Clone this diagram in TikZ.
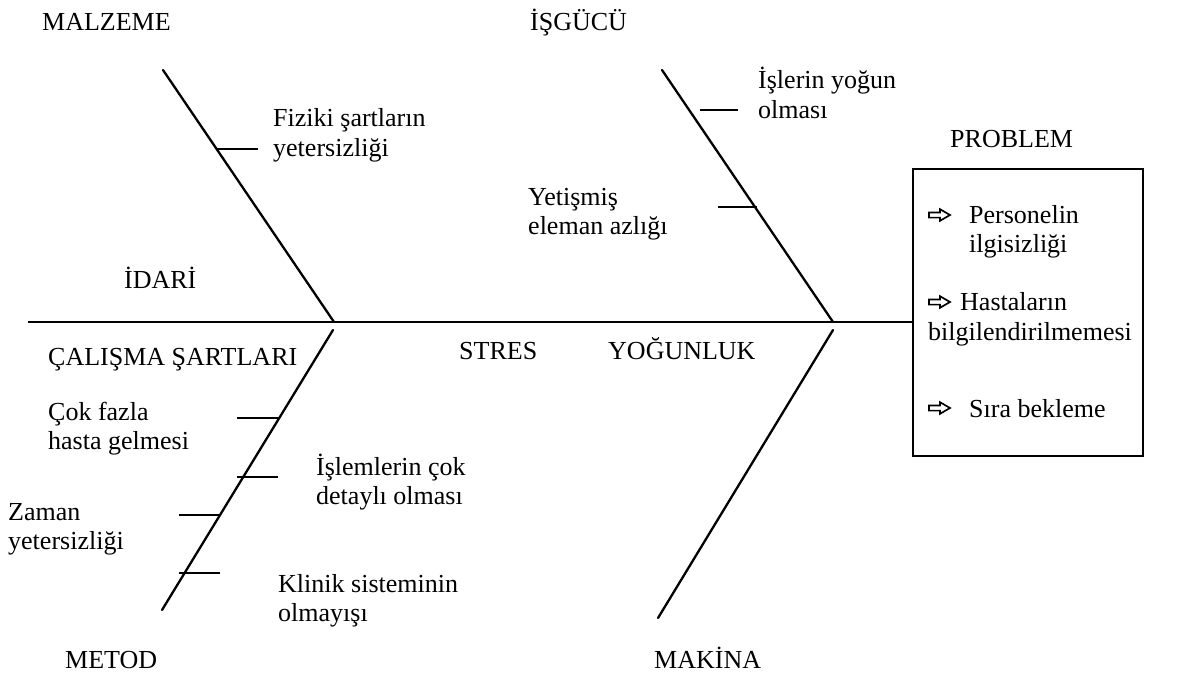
\documentclass[tikz,border=0pt]{standalone}
\usepackage{fontspec}
\setmainfont{Liberation Serif}
% two stacked lines whose baseline is the first line's baseline
\newcommand\twoline[2]{\begin{tabular}[t]{@{}l@{}}#1\\#2\end{tabular}}
\begin{document}
\begin{tikzpicture}[x=1pt,y=-1pt,
  lbl/.style={anchor=base west, inner sep=0pt, font=\fontsize{26}{29}\selectfont},
  bone/.style={line width=2.3pt, line cap=round},
  spine/.style={line width=2.6pt},
  tickline/.style={line width=1.9pt},
  probbox/.style={draw, line width=1.9pt, anchor=north west, inner sep=0pt,
                  minimum width=230pt, minimum height=287pt},
  harrow/.pic={\draw[line width=1.7pt, line join=miter]
      (0,-2.6) -- (11,-2.6) -- (11,-5.8) -- (21,0) -- (11,5.8) -- (11,2.6) -- (0,2.6) -- cycle;},
]
\useasboundingbox (0,0) rectangle (1188,674);

% problem box
\node[probbox] (prob) at (912,168) {};

% spine
\coordinate (tail) at (28,322);
\draw[spine] (tail) -- (tail -| prob.west);

% main bones
\coordinate (h1) at (334,322);
\coordinate (h2) at (833,322);
\coordinate (ulTop) at (163,70);
\coordinate (urTop) at (662,70);
\coordinate (llTop) at (333,330);
\coordinate (llEnd) at (162,610);
\coordinate (lrTop) at (833,330);
\coordinate (lrEnd) at (658,618);
\draw[bone] (ulTop) -- (h1);
\draw[bone] (urTop) -- (h2);
\draw[bone] (llTop) -- (llEnd);
\draw[bone] (lrTop) -- (lrEnd);

% small cause ticks
\draw[tickline] (217,149) -- (258,149);
\draw[tickline] (700,110) -- (738,110);
\draw[tickline] (718,207) -- (757,207);
\draw[tickline] (237,418) -- (279,418);
\draw[tickline] (237,477) -- (278,477);
\draw[tickline] (179,515) -- (221,515);
\draw[tickline] (179,573) -- (220,573);

% category labels
\node[lbl] (malzeme) at (42,31) {MALZEME};
\node[lbl] (isgucu) at (530,31) {İŞGÜCÜ};
\node[lbl] (idari) at (124,288) {İDARİ};
\node[lbl] (calisma) at (48,365) {ÇALIŞMA ŞARTLARI};
\node[lbl] (stres) at (459,359) {STRES};
\node[lbl] (yogunluk) at (608,359) {YOĞUNLUK};
\node[lbl] (metod) at (65,668) {METOD};
\node[lbl] (makina) at (654,668) {MAKİNA};
\node[lbl] (problem) at (950,147) {PROBLEM};

% causes
\node[lbl] (fiziki) at (273,127) {\twoline{Fiziki şartların}{yetersizliği}};
\node[lbl] (isler) at (758,89) {\twoline{İşlerin yoğun}{olması}};
\node[lbl] (yetismis) at (528,205) {\twoline{Yetişmiş}{eleman azlığı}};
\node[lbl] (cokfazla) at (48,420) {\twoline{Çok fazla}{hasta gelmesi}};
\node[lbl] (zaman) at (8,520) {\twoline{Zaman}{yetersizliği}};
\node[lbl] (islemler) at (316,475) {\twoline{İşlemlerin çok}{detaylı olması}};
\node[lbl] (klinik) at (278,592) {\twoline{Klinik sisteminin}{olmayışı}};

% problem items
\pic at (929,215) {harrow};
\node[lbl] (p1) at (969,223) {\twoline{Personelin}{ilgisizliği}};
\pic at (929,302) {harrow};
\node[lbl] (p2a) at (960,310) {Hastaların};
\node[lbl] (p2b) at (928,340) {bilgilendirilmemesi};
\pic at (929,408) {harrow};
\node[lbl] (p3) at (969,417) {Sıra bekleme};
\end{tikzpicture}
\end{document}
